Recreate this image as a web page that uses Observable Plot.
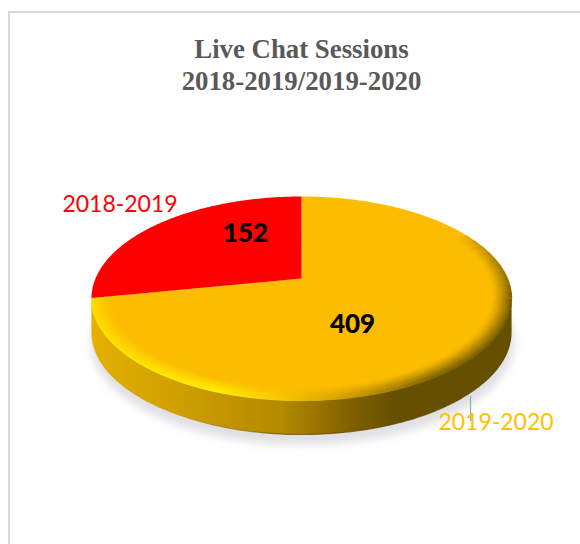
<!DOCTYPE html>
<html>
<head>
<meta charset="utf-8">
<script src="https://cdn.jsdelivr.net/npm/d3@7"></script>
<script src="https://cdn.jsdelivr.net/npm/@observablehq/plot@0.6"></script>
<style>
html,body{margin:0;padding:0;background:#fff}
#page{position:relative;width:580px;height:544px;overflow:hidden}
#frame{position:absolute;left:8px;top:11px;right:-4px;bottom:-4px;border:2px solid #d9d9d9}
#title{position:absolute;left:0;top:33px;width:603px;text-align:center;font:bold 26.8px/32px "Liberation Serif",serif;color:#595959}
#chart{position:absolute;left:0;top:100px}
svg{display:block;background:transparent!important}
</style>
</head>
<body>
<div id="page"><div id="frame"></div>
<div id="title">Live Chat Sessions<br>2018-2019/2019-2020</div>
<div id="chart"></div></div>
<script>
// Data
const categories = ["2018-2019", "2019-2020"];
const sessions = [152, 409];
const sliceColors = ["#ff0000", "#fcbc00"];

// Pie geometry (chart units = page pixels), a tilted disc in perspective
const cx = 301, cy = 278, radius = 206, depth = 34;
const pa = -43.6, pc = 0.196;
const viewSkew = 0.06; // the reference's 3D view opens the left slice edge slightly
const project = (t, r = 1) => {
  const u = r * Math.sin(t), v = r * Math.cos(t), w = pc * v + 1;
  return {x: cx + radius * u / w, y: (pa * v + cy) / w};
};
const sample = (t0, t1, r = 1, n = 160) => d3.range(n + 1).map(i => project(t0 + (t1 - t0) * i / n, r));

const frac = sessions[0] / d3.sum(sessions);
const start = -2 * Math.PI * frac - viewSkew;
const arcs = d3.pie().sort(null).startAngle(start).endAngle(start + 2 * Math.PI)
  .value((d, i) => i === 0 ? d + viewSkew / (2 * Math.PI) * d3.sum(sessions) : d - viewSkew / (2 * Math.PI) * d3.sum(sessions))(sessions);
const slices = arcs.map((a, i) => [{x: cx, y: cy}, ...sample(a.startAngle, a.endAngle)].map(p => ({...p, key: categories[i]})));

// Front half of the rim, from the right extreme round the bottom to the left extreme
const tR = Math.acos(-pc), tL = 2 * Math.PI - tR;
const rim = sample(tR, tL);
const wall = [...rim.map(p => ({x: p.x, y: p.y + depth})), ...rim.slice().reverse()];
const shadow = sample(0, 2 * Math.PI, 1.008).map(p => ({x: p.x + 1, y: p.y + depth + 9}));

// Bevel rings, soft towards the middle of the disc, tapering in over the upper right edge
const ringCount = 14;
const rings = d3.range(ringCount).map(i => 0.001 + 0.0065 * i);
const taperCount = 10, taperSpan = 0.7;
const bevel = rings.flatMap((s, i) => {
  const o = 0.95 * Math.pow(1 - i / ringCount, 1.4);
  const pieces = d3.range(taperCount).map(k => ({
    t0: tR - taperSpan * (1 - k / taperCount),
    t1: tR - taperSpan * (1 - (k + 1) / taperCount),
    o: o * (k + 1) / (taperCount + 1)
  }));
  pieces.push({t0: tR, t1: tL, o});
  return pieces.map(p => ({r: 1 - s, ...p}));
});

const valueLabels = [{x: 245, y: 233.5}, {x: 352, y: 324}];
const nameLabels = [{x: 119.5, y: 204}, {x: 495.5, y: 422}];

const defs = () => {
  const d = d3.create("svg:defs");
  const grad = (id, stops) => {
    const g = d.append("linearGradient").attr("id", id).attr("gradientUnits", "userSpaceOnUse")
      .attr("x1", 91).attr("x2", 511).attr("y1", 0).attr("y2", 0);
    stops.forEach(([o, c, a = 1]) => g.append("stop").attr("offset", o).attr("stop-color", c).attr("stop-opacity", a));
  };
  grad("wallGrad", [[0, "#e6b000"], [0.25, "#c99c00"], [0.45, "#b48a00"], [0.62, "#7f6000"], [0.72, "#665000"], [1, "#665000"]]);
  grad("bevelGrad", [[0, "#ffe000"], [0.3, "#fff000"], [0.45, "#f8c800"], [0.62, "#c89600"], [0.8, "#806300"], [1, "#665000"]]);
  grad("edgeGrad", [[0.2, "#6b4f00", 0], [0.45, "#6b4f00", 0.75], [0.75, "#4f3c00", 0.6], [0.95, "#4f3c00", 0]]);
  return d.node();
};

const plot = Plot.plot({
  width: 580, height: 444,
  margin: 0,
  x: {domain: [0, 580], range: [0, 580], axis: null},
  y: {domain: [100, 544], range: [0, 444], axis: null},
  style: {background: "transparent"},
  marks: [
    defs,
    Plot.line(shadow, {x: "x", y: "y", fill: "#e0e0e4", imageFilter: "blur(4px)"}),
    Plot.line(wall, {x: "x", y: "y", fill: "url(#wallGrad)"}),
    Plot.line(rim.map(p => ({x: p.x, y: p.y + depth})), {x: "x", y: "y", stroke: "url(#edgeGrad)", strokeWidth: 1.2}),
    Plot.line(slices[1], {x: "x", y: "y", fill: sliceColors[1]}),
    ...bevel.map(b => Plot.line(sample(b.t0, b.t1, b.r, 40), {
      x: "x", y: "y", stroke: "url(#bevelGrad)", strokeWidth: 1.6, strokeOpacity: b.o, strokeLinecap: "butt"
    })),
    Plot.line(slices[0], {x: "x", y: "y", fill: sliceColors[0]}),
    Plot.ruleX([470], {y1: 396, y2: 421, stroke: "#a6a6a6", strokeWidth: 1.2}),
    Plot.text(categories, {
      x: (d, i) => nameLabels[i].x, y: (d, i) => nameLabels[i].y,
      text: d => d, fill: (d, i) => ["#ff0000", "#ffc000"][i],
      fontFamily: "Lato", fontSize: 23
    }),
    Plot.text(sessions, {
      x: (d, i) => valueLabels[i].x, y: (d, i) => valueLabels[i].y,
      text: d => String(d), fill: "#000000",
      fontFamily: "Lato", fontWeight: 900, fontSize: 26
    })
  ]
});
document.getElementById("chart").append(plot);
</script>
</body>
</html>
